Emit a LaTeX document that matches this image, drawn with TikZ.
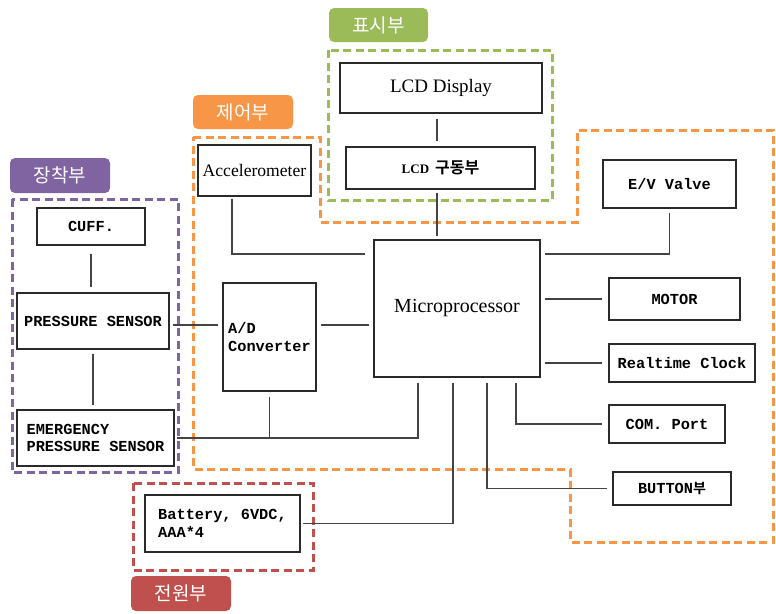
\documentclass[tikz,border=0pt]{standalone}
\usepackage{fontspec}
\setmainfont{Liberation Serif}
\newfontfamily\monob{Liberation Mono}[UprightFont={* Bold}]
\newfontfamily\kr{Noto Sans CJK KR}
\newfontfamily\krb{Noto Sans CJK KR}[UprightFont={* Bold}]
\definecolor{purp}{HTML}{8064A2}
\definecolor{orng}{HTML}{F79646}
\definecolor{grn}{HTML}{9BBB59}
\definecolor{redd}{HTML}{C0504D}
\definecolor{boxc}{HTML}{2A2A2A}
\definecolor{linec}{HTML}{444444}
\tikzset{
  box/.style={draw=boxc, line width=1.2pt, fill=white, inner sep=0pt},
  mono/.style={font=\monob\fontsize{15.3}{17.5}\selectfont, align=left},
  serif/.style={font=\fontsize{17.6}{20}\selectfont},
  conn/.style={draw=linec, line width=1.2pt},
  region/.style={line width=3pt, dash pattern=on 8pt off 4.5pt},
  tab/.style={rounded corners=5pt, inner sep=0pt, text=white, font=\kr\fontsize{19}{21}\selectfont},
}
\begin{document}
\begin{tikzpicture}[x=1pt,y=-1pt]
\useasboundingbox (0,0) rectangle (776,613);
% regions
\draw[region, draw=purp] (12,199) rectangle (178,472);
\draw[region, draw=orng] (193,137) -- (320,137) -- (320,222) -- (577,222) -- (577,130) -- (773,130) -- (773,542) -- (570,542) -- (570,469) -- (193,469) -- cycle;
\draw[region, draw=grn] (328,50) rectangle (552,200);
\draw[region, draw=redd] (133,483) rectangle (313,570);
% tabs
\node[tab, fill=purp, minimum width=100pt, minimum height=35pt] (t1) at (60,175.5) {장착부};
\node[tab, fill=orng, minimum width=100pt, minimum height=34pt] (t2) at (243,112) {제어부};
\node[tab, fill=grn, minimum width=99pt, minimum height=34pt] (t3) at (378.5,25) {표시부};
\node[tab, fill=redd, minimum width=100pt, minimum height=35pt] (t4) at (181,593.5) {전원부};
% boxes
\node[box, mono, minimum width=108pt, minimum height=37pt] (cuff) at (91,226.5) {CUFF.};
\node[box, mono, minimum width=152pt, minimum height=56pt] (ps) at (93,321) {PRESSURE SENSOR};
\node[box, mono, minimum width=157pt, minimum height=56pt] (eps) at (95.5,438) {EMERGENCY\\PRESSURE SENSOR};
\node[box, serif, minimum width=113pt, minimum height=51pt] (acc) at (254.5,170.5) {Accelerometer};
\node[box, mono, minimum width=93pt, minimum height=108pt] (ad) at (269.5,337) {A/D\\Converter};
\node[box, font=\fontsize{20}{22}\selectfont, minimum width=166pt, minimum height=137pt] (micro) at (457,308.5) {Microprocessor};
\node[box, font=\fontsize{19}{22}\selectfont, minimum width=202pt, minimum height=50pt] (lcd) at (441,88) {LCD Display};
\node[box, minimum width=189pt, minimum height=42pt] (drv) at (440.5,168) {\textbf{\fontsize{13}{15}\selectfont LCD}\hspace{6pt}{\krb\fontsize{16}{18}\selectfont 구동부}};
\node[box, mono, minimum width=133pt, minimum height=48pt] (ev) at (669.5,184) {E/V Valve};
\node[box, mono, minimum width=131pt, minimum height=42pt] (motor) at (674.5,299) {MOTOR};
\node[box, mono, minimum width=146pt, minimum height=38pt] (rtc) at (682,363) {Realtime Clock};
\node[box, mono, minimum width=116pt, minimum height=38pt] (com) at (667,424) {COM. Port};
\node[box, mono, minimum width=118pt, minimum height=33pt] (btn) at (672,488.5) {BUTTON{\krb\fontsize{14}{16}\selectfont 부}};
\node[box, mono, minimum width=155pt, minimum height=57pt] (bat) at (222.5,523.5) {Battery, 6VDC,\\AAA*4};
% helper coordinates
\coordinate (yA) at (0,325);
\coordinate (yB) at (0,254);
\coordinate (yF) at (0,438);
\coordinate (xAcc) at (232,0);
\coordinate (xC) at (516,0);
\coordinate (xD) at (487,0);
\coordinate (xE) at (453,0);
\coordinate (xF) at (418,0);
\coordinate (xL) at (437,0);
% connectors
\draw[conn, shorten <=8pt, shorten >=5pt] (cuff.south) -- (cuff.south |- ps.north);
\draw[conn, shorten <=4pt, shorten >=4pt] (ps.south) -- (ps.south |- eps.north);
\draw[conn, shorten <=3pt, shorten >=4pt] (ps.east |- yA) -- (ad.west |- yA);
\draw[conn, shorten <=4pt, shorten >=4pt] (ad.east |- yA) -- (micro.west |- yA);
\draw[conn, shorten <=2pt, shorten >=8pt] (acc.south -| xAcc) -- (xAcc |- yB) -- (micro.west |- yB);
\draw[conn, shorten <=5pt, shorten >=5pt] (lcd.south -| xL) -- (drv.north -| xL);
\draw[conn, shorten <=3pt, shorten >=3pt] (drv.south -| xL) -- (xL |- micro.north);
\draw[conn, shorten <=4pt, shorten >=4pt] (micro.east |- yB) -- (ev.south |- yB) -- (ev.south);
\draw[conn, shorten <=4pt, shorten >=6pt] (micro.east |- motor.west) -- (motor.west);
\draw[conn, shorten <=4pt, shorten >=6pt] (micro.east |- rtc.west) -- (rtc.west);
\draw[conn, shorten <=5pt, shorten >=6pt] (micro.south -| xC) -- (xC |- com.west) -- (com.west);
\draw[conn, shorten <=5pt, shorten >=5pt] (micro.south -| xD) -- (xD |- btn.west) -- (btn.west);
\draw[conn, shorten <=5pt, shorten >=2pt] (micro.south -| xE) -- (xE |- bat.east) -- (bat.east);
\draw[conn, shorten <=5pt, shorten >=2pt] (micro.south -| xF) -- (xF |- yF) -- (eps.east |- yF);
\draw[conn, shorten <=5pt] (ad.south) -- (ad.south |- yF);
\end{tikzpicture}
\end{document}
